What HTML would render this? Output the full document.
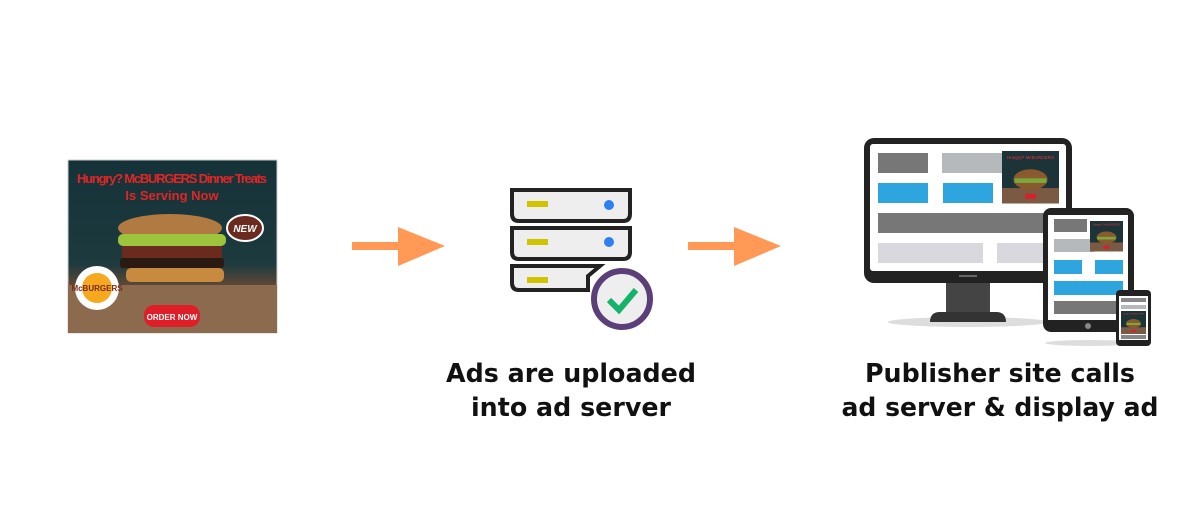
<!DOCTYPE html>
<html><head><style>html,body{margin:0;padding:0;background:#fff;width:1200px;height:505px;overflow:hidden}</style></head>
<body>
<svg width="1200" height="505" viewBox="0 0 1200 505" xmlns="http://www.w3.org/2000/svg">
<defs>
<linearGradient id="bg" x1="0" y1="0" x2="0" y2="1"><stop offset="0" stop-color="#143238"/><stop offset="0.6" stop-color="#1d3a3e"/><stop offset="0.75" stop-color="#6b4a34"/><stop offset="1" stop-color="#8a6a50"/></linearGradient>
<g id="minad">
<rect x="0" y="0" width="100" height="92" fill="#1c3438"/>
<rect x="0" y="65" width="100" height="27" fill="#7a5a42"/>
<ellipse cx="50" cy="50" rx="30" ry="18" fill="#8a5a2e"/>
<rect x="22" y="48" width="56" height="8" fill="#7aa83a"/>
<rect x="40" y="75" width="20" height="9" rx="4" fill="#d8202a"/>
<text x="50" y="14" font-size="8" fill="#e33" text-anchor="middle" font-family="Liberation Sans">Hungry? McBURGERS</text>
</g>
</defs>
<!-- Ad -->
<rect x="68" y="160" width="209" height="173" fill="url(#bg)" stroke="#ccc"/>
<text x="172" y="183" font-family="Liberation Sans, sans-serif" font-weight="bold" font-size="13" fill="#e42525" text-anchor="middle" textLength="190">Hungry? McBURGERS Dinner Treats</text>
<text x="172" y="200" font-family="Liberation Sans, sans-serif" font-weight="bold" font-size="13" fill="#e42525" text-anchor="middle">Is Serving Now</text>
<ellipse cx="170" cy="228" rx="52" ry="14" fill="#b07a42"/>
<rect x="118" y="234" width="108" height="12" rx="5" fill="#9cc43c"/>
<rect x="122" y="246" width="100" height="12" fill="#6b2a1e"/>
<rect x="120" y="258" width="104" height="10" rx="3" fill="#2a1a12"/>
<rect x="126" y="268" width="98" height="14" rx="5" fill="#c88a3e"/>
<rect x="68" y="285" width="209" height="48" fill="#8b6a4e"/>
<ellipse cx="245" cy="228" rx="18" ry="13" fill="#6b2a1e" stroke="#fff" stroke-width="2"/>
<text x="245" y="232" font-family="Liberation Sans" font-weight="bold" font-style="italic" font-size="10" fill="#fff" text-anchor="middle">NEW</text>
<circle cx="97" cy="288" r="22" fill="#fff"/><circle cx="97" cy="288" r="15" fill="#f6a81e"/>
<text x="97" y="291" font-family="Liberation Sans" font-weight="bold" font-size="8" fill="#7a2a1a" text-anchor="middle">McBURGERS</text>
<rect x="144" y="305" width="56" height="22" rx="10" fill="#e01e28"/>
<text x="172" y="320" font-family="Liberation Sans" font-weight="bold" font-size="8" fill="#fff" text-anchor="middle">ORDER NOW</text>
<!-- Arrows -->
<g fill="#ff9955">
<rect x="352" y="242" width="48" height="8"/><polygon points="398,227 445,246 398,266"/>
<rect x="688" y="242" width="48" height="8"/><polygon points="734,227 781,246 734,266"/>
</g>
<!-- Server -->
<g stroke="#222" stroke-width="4" fill="#eee">
<path d="M512 190 H630 V214 Q630 221 623 221 H519 Q512 221 512 214 Z"/>
<path d="M512 228 H630 V252 Q630 259 623 259 H519 Q512 259 512 252 Z"/>
<path d="M512 266 H600 L588 276 V290 H519 Q512 290 512 283 Z"/>
</g>
<g fill="#d0c400"><rect x="527" y="201" width="21" height="6"/><rect x="527" y="239" width="21" height="6"/><rect x="527" y="277" width="21" height="6"/></g>
<g fill="#2e7ff0"><circle cx="609" cy="205" r="5"/><circle cx="609" cy="242" r="5"/></g>
<circle cx="622" cy="299" r="28" fill="#eee" stroke="#5a3f78" stroke-width="6"/>
<path d="M609 300 L619 310 L636 290" fill="none" stroke="#15b36a" stroke-width="6"/>
<!-- Labels -->
<g font-family="DejaVu Sans, Liberation Sans, sans-serif" font-weight="bold" font-size="26" fill="#111" text-anchor="middle">
<text x="571" y="382" textLength="250" lengthAdjust="spacingAndGlyphs">Ads are uploaded</text>
<text x="571" y="416" textLength="200" lengthAdjust="spacingAndGlyphs">into ad server</text>
<text x="1000" y="382" textLength="270" lengthAdjust="spacingAndGlyphs">Publisher site calls</text>
<text x="1000" y="416" textLength="317" lengthAdjust="spacingAndGlyphs">ad server &amp; display ad</text>
</g>
<!-- Monitor -->
<ellipse cx="968" cy="322" rx="80" ry="5" fill="#ddd"/>
<rect x="946" y="281" width="44" height="32" fill="#444"/>
<path d="M930 322 Q930 312 940 312 H996 Q1006 312 1006 322 Z" fill="#333"/>
<rect x="864" y="138" width="208" height="145" rx="10" fill="#222"/>
<rect x="870" y="144" width="196" height="127" rx="3" fill="#fff"/>
<rect x="959" y="275" width="18" height="2" fill="#666"/>
<rect x="878" y="153" width="50" height="20" fill="#777"/>
<rect x="942" y="153" width="62" height="20" fill="#b5b9bb"/>
<rect x="878" y="183" width="50" height="20" fill="#2fa5e0"/>
<rect x="943" y="183" width="50" height="20" fill="#2fa5e0"/>
<rect x="878" y="213" width="170" height="20" fill="#777"/>
<rect x="878" y="243" width="105" height="20" fill="#d8d8de"/>
<rect x="997" y="243" width="50" height="20" fill="#d8d8de"/>
<use href="#minad" transform="translate(1002,151) scale(0.57)"/>
<!-- Tablet -->
<ellipse cx="1090" cy="343" rx="45" ry="3" fill="#ddd"/>
<rect x="1043" y="208" width="91" height="124" rx="8" fill="#222"/>
<rect x="1048" y="215" width="80" height="105" fill="#fff"/>
<circle cx="1088" cy="326" r="3" fill="#888"/>
<rect x="1054" y="219" width="33" height="13" fill="#777"/>
<rect x="1054" y="239" width="40" height="13" fill="#b5b9bb"/>
<use href="#minad" transform="translate(1090,221) scale(0.33)"/>
<rect x="1054" y="260" width="28" height="14" fill="#2fa5e0"/>
<rect x="1095" y="260" width="28" height="14" fill="#2fa5e0"/>
<rect x="1054" y="281" width="69" height="14" fill="#2fa5e0"/>
<rect x="1054" y="301" width="69" height="13" fill="#777"/>
<!-- Phone -->
<rect x="1116" y="290" width="35" height="56" rx="4" fill="#222"/>
<rect x="1119" y="296" width="29" height="44" fill="#fff"/>
<rect x="1121" y="298" width="25" height="4" fill="#888"/>
<rect x="1121" y="305" width="25" height="4" fill="#b5b9bb"/>
<use href="#minad" transform="translate(1121,311) scale(0.25)"/>
<rect x="1121" y="335" width="25" height="4" fill="#888"/>
</svg>
</body></html>
